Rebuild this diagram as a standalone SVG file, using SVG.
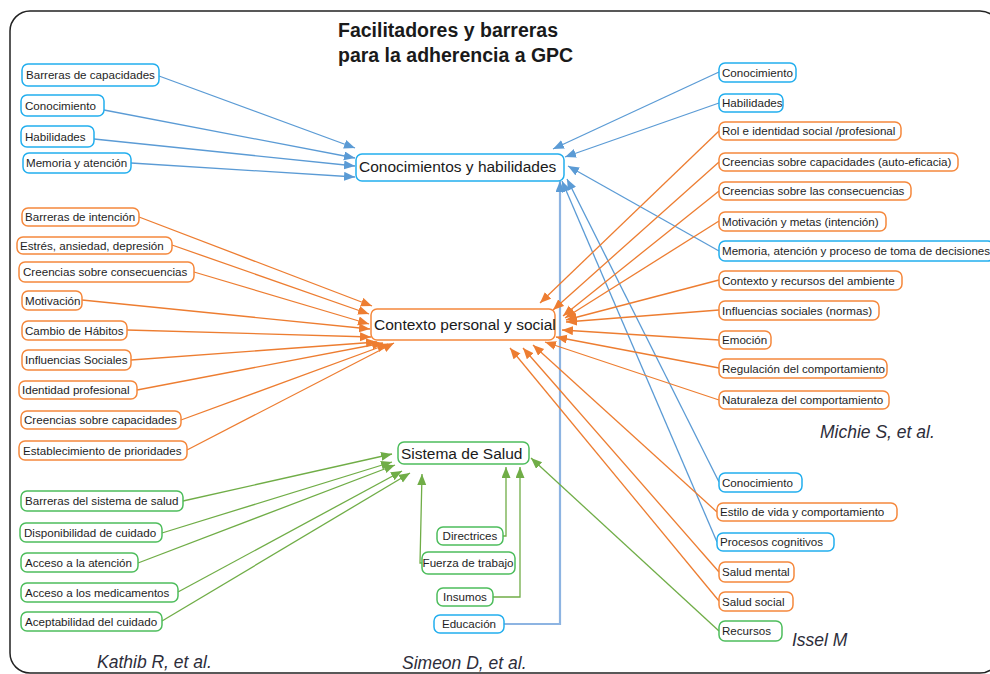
<svg xmlns="http://www.w3.org/2000/svg" width="990" height="674" viewBox="0 0 990 674">
<defs>
<style>
.bg{fill:#fff}
.frame{fill:none;stroke:#222;stroke-width:1.5}
.title{font-family:"Liberation Sans",Arial,sans-serif;font-weight:bold;font-size:19.5px;fill:#1a1a1a}
.cite{font-family:"Liberation Sans",Arial,sans-serif;font-style:italic;font-size:17.5px;fill:#2d2d3a}
.t{font-family:"Liberation Sans",Arial,sans-serif;font-size:11.6px;fill:#1e1e1e}
.tm{font-family:"Liberation Sans",Arial,sans-serif;font-size:15.5px;fill:#1a1a1a}
.c{text-anchor:middle}
.nb rect{fill:#fff;stroke:#22aeee;stroke-width:1.5}
.no rect{fill:#fff;stroke:#f5883c;stroke-width:1.5}
.ng rect{fill:#fff;stroke:#4dbd5c;stroke-width:1.5}
.cb{fill:none;stroke:#5b9bd5;stroke-width:1.3}
.cbe{fill:none;stroke:#8db4e2;stroke-width:2.2}
.co{fill:none;stroke:#ed7d31;stroke-width:1.3}
.cg{fill:none;stroke:#70ad47;stroke-width:1.3}
</style>
<marker id="ab" markerUnits="userSpaceOnUse" markerWidth="12" markerHeight="10" refX="11" refY="4.5" orient="auto"><path d="M0,0 L11,4.5 L0,9 z" fill="#5b9bd5"/></marker>
<marker id="ao" markerUnits="userSpaceOnUse" markerWidth="12" markerHeight="10" refX="11" refY="4.5" orient="auto"><path d="M0,0 L11,4.5 L0,9 z" fill="#ed7d31"/></marker>
<marker id="ag" markerUnits="userSpaceOnUse" markerWidth="12" markerHeight="10" refX="11" refY="4.5" orient="auto"><path d="M0,0 L11,4.5 L0,9 z" fill="#70ad47"/></marker>
</defs>
<rect class="bg" x="0" y="0" width="990" height="674"/>
<rect class="frame" x="10" y="11" width="990" height="662" rx="20"/>
<text class="title" x="338" y="37">Facilitadores y barreras</text>
<text class="title" x="338" y="62">para la adherencia a GPC</text>

<g id="connectors">
<!-- blue: into Conocimientos y habilidades -->
<path class="cb" marker-end="url(#ab)" d="M159,76 L355,148"/>
<path class="cb" marker-end="url(#ab)" d="M104,110 L355,158"/>
<path class="cb" marker-end="url(#ab)" d="M94,139 L355,166"/>
<path class="cb" marker-end="url(#ab)" d="M131,163 L355,177"/>
<path class="cb" marker-end="url(#ab)" d="M719,72 L553,149"/>
<path class="cb" marker-end="url(#ab)" d="M719,103 L565,157"/>
<path class="cb" marker-end="url(#ab)" d="M719,251 L568,166"/>
<path class="cb" marker-end="url(#ab)" d="M719,482 L567,179"/>
<path class="cb" marker-end="url(#ab)" d="M717,542 L562,181"/>
<path class="cbe" marker-end="url(#ab)" d="M504,624 L560,624 L560,181"/>
<!-- orange: into Contexto personal y social -->
<path class="co" marker-end="url(#ao)" d="M139,217 L372,306"/>
<path class="co" marker-end="url(#ao)" d="M172,245 L369,314"/>
<path class="co" marker-end="url(#ao)" d="M194,272 L369,324"/>
<path class="co" marker-end="url(#ao)" d="M82,300 L370,329"/>
<path class="co" marker-end="url(#ao)" d="M127,330 L371,337"/>
<path class="co" marker-end="url(#ao)" d="M131,360 L377,342"/>
<path class="co" marker-end="url(#ao)" d="M137,390 L383,343"/>
<path class="co" marker-end="url(#ao)" d="M181,420 L388,344"/>
<path class="co" marker-end="url(#ao)" d="M187,450 L394,343"/>
<path class="co" marker-end="url(#ao)" d="M719,131 L540,303"/>
<path class="co" marker-end="url(#ao)" d="M719,162 L553,310"/>
<path class="co" marker-end="url(#ao)" d="M719,191 L563,316"/>
<path class="co" marker-end="url(#ao)" d="M719,221 L565,318"/>
<path class="co" marker-end="url(#ao)" d="M719,280 L566,320"/>
<path class="co" marker-end="url(#ao)" d="M719,310 L566,322"/>
<path class="co" marker-end="url(#ao)" d="M719,340 L562,330"/>
<path class="co" marker-end="url(#ao)" d="M719,368 L556,337"/>
<path class="co" marker-end="url(#ao)" d="M719,400 L545,342"/>
<path class="co" marker-end="url(#ao)" d="M717,512 L533,345"/>
<path class="co" marker-end="url(#ao)" d="M719,572 L523,348"/>
<path class="co" marker-end="url(#ao)" d="M719,601 L510,348"/>
<!-- green: into Sistema de Salud -->
<path class="cg" marker-end="url(#ag)" d="M183,501 L392,454"/>
<path class="cg" marker-end="url(#ag)" d="M162,533 L392,462"/>
<path class="cg" marker-end="url(#ag)" d="M138,563 L395,465"/>
<path class="cg" marker-end="url(#ag)" d="M178,592 L402,471"/>
<path class="cg" marker-end="url(#ag)" d="M162,621 L410,473"/>
<path class="cg" marker-end="url(#ag)" d="M503,536 L506,536 L506,467"/>
<path class="cg" marker-end="url(#ag)" d="M493,597 L520,597 L520,467"/>
<path class="cg" marker-end="url(#ag)" d="M422,563 L420,563 L422,474"/>
<path class="cg" marker-end="url(#ag)" d="M719,631 L531,458"/>
</g>

<!-- central nodes -->
<g id="conocimientos-habilidades" class="nb"><rect x="356" y="154" width="208" height="27" rx="6"/><text class="tm" x="359" y="172">Conocimientos y habilidades</text></g>
<g id="contexto-personal-social" class="no"><rect x="371" y="309" width="184" height="31" rx="6"/><text class="tm" x="374" y="330">Contexto personal y social</text></g>
<g id="sistema-salud" class="ng"><rect x="398" y="442" width="131" height="22" rx="6"/><text class="tm" x="401" y="459">Sistema de Salud</text></g>

<!-- left column -->
<g id="l-barreras-capacidades" class="nb"><rect x="22" y="64" width="137" height="22" rx="6"/><text class="t" x="26" y="79">Barreras de capacidades</text></g>
<g id="l-conocimiento" class="nb"><rect x="21" y="95" width="83" height="21" rx="6"/><text class="t" x="25" y="110">Conocimiento</text></g>
<g id="l-habilidades" class="nb"><rect x="21" y="126" width="73" height="21" rx="6"/><text class="t" x="25" y="141">Habilidades</text></g>
<g id="l-memoria-atencion" class="nb"><rect x="23" y="153" width="108" height="20" rx="6"/><text class="t" x="26" y="167">Memoria y atención</text></g>

<g id="l-barreras-intencion" class="no"><rect x="22" y="208" width="117" height="18" rx="6"/><text class="t" x="25" y="221">Barreras de intención</text></g>
<g id="l-estres" class="no"><rect x="17" y="237" width="155" height="17" rx="6"/><text class="t" x="20" y="250">Estrés, ansiedad, depresión</text></g>
<g id="l-creencias-consecuencias" class="no"><rect x="19" y="262" width="175" height="20" rx="6"/><text class="t" x="23" y="276">Creencias sobre consecuencias</text></g>
<g id="l-motivacion" class="no"><rect x="22" y="291" width="60" height="19" rx="6"/><text class="t" x="25" y="305">Motivación</text></g>
<g id="l-cambio-habitos" class="no"><rect x="22" y="321" width="105" height="19" rx="6"/><text class="t" x="25" y="335">Cambio de Hábitos</text></g>
<g id="l-influencias-sociales" class="no"><rect x="22" y="350" width="109" height="20" rx="6"/><text class="t" x="25" y="364">Influencias Sociales</text></g>
<g id="l-identidad-profesional" class="no"><rect x="19" y="381" width="118" height="18" rx="6"/><text class="t" x="22" y="394">Identidad profesional</text></g>
<g id="l-creencias-capacidades" class="no"><rect x="21" y="411" width="160" height="18" rx="6"/><text class="t" x="24" y="424">Creencias sobre capacidades</text></g>
<g id="l-prioridades" class="no"><rect x="19" y="441" width="168" height="19" rx="6"/><text class="t" x="23" y="455">Establecimiento de prioridades</text></g>

<g id="l-barreras-sistema" class="ng"><rect x="21" y="491" width="162" height="20" rx="6"/><text class="t" x="25" y="505">Barreras del sistema de salud</text></g>
<g id="l-disponibilidad" class="ng"><rect x="20" y="523" width="142" height="19" rx="6"/><text class="t" x="24" y="537">Disponibilidad de cuidado</text></g>
<g id="l-acceso-atencion" class="ng"><rect x="21" y="553" width="117" height="19" rx="6"/><text class="t" x="25" y="567">Acceso a la atención</text></g>
<g id="l-acceso-medicamentos" class="ng"><rect x="21" y="583" width="157" height="19" rx="6"/><text class="t" x="25" y="597">Acceso a los medicamentos</text></g>
<g id="l-aceptabilidad" class="ng"><rect x="21" y="612" width="141" height="19" rx="6"/><text class="t" x="25" y="626">Aceptabilidad del cuidado</text></g>

<!-- centre column -->
<g id="c-directrices" class="ng"><rect x="437" y="527" width="66" height="18" rx="6"/><text class="t c" x="470" y="540">Directrices</text></g>
<g id="c-fuerza-trabajo" class="ng"><rect x="422" y="552" width="93" height="22" rx="6"/><text class="t c" x="468" y="567">Fuerza de trabajo</text></g>
<g id="c-insumos" class="ng"><rect x="437" y="588" width="56" height="18" rx="6"/><text class="t c" x="465" y="601">Insumos</text></g>
<g id="c-educacion" class="nb"><rect x="434" y="615" width="70" height="18" rx="6"/><text class="t c" x="469" y="628">Educación</text></g>

<!-- right column -->
<g id="r-conocimiento" class="nb"><rect x="719" y="63" width="77" height="19" rx="6"/><text class="t" x="722" y="77">Conocimiento</text></g>
<g id="r-habilidades" class="nb"><rect x="719" y="94" width="64" height="18" rx="6"/><text class="t" x="722" y="107">Habilidades</text></g>
<g id="r-rol-identidad" class="no"><rect x="719" y="122" width="182" height="18" rx="6"/><text class="t" x="722" y="135">Rol e identidad social /profesional</text></g>
<g id="r-creencias-capacidades" class="no"><rect x="719" y="153" width="239" height="18" rx="6"/><text class="t" x="722" y="166">Creencias sobre capacidades (auto-eficacia)</text></g>
<g id="r-creencias-consecuencias" class="no"><rect x="719" y="182" width="192" height="18" rx="6"/><text class="t" x="722" y="195">Creencias sobre las consecuencias</text></g>
<g id="r-motivacion-metas" class="no"><rect x="719" y="212" width="167" height="19" rx="6"/><text class="t" x="722" y="226">Motivación y metas (intención)</text></g>
<g id="r-memoria-decisiones" class="nb"><rect x="719" y="241" width="275" height="20" rx="6"/><text class="t" x="722" y="255">Memoria, atención y proceso de toma de decisiones</text></g>
<g id="r-contexto-recursos" class="no"><rect x="719" y="271" width="183" height="19" rx="6"/><text class="t" x="722" y="285">Contexto y recursos del ambiente</text></g>
<g id="r-influencias-normas" class="no"><rect x="719" y="301" width="160" height="19" rx="6"/><text class="t" x="722" y="315">Influencias sociales (normas)</text></g>
<g id="r-emocion" class="no"><rect x="719" y="331" width="52" height="18" rx="6"/><text class="t" x="722" y="344">Emoción</text></g>
<g id="r-regulacion" class="no"><rect x="719" y="359" width="168" height="19" rx="6"/><text class="t" x="722" y="373">Regulación del comportamiento</text></g>
<g id="r-naturaleza" class="no"><rect x="719" y="391" width="170" height="18" rx="6"/><text class="t" x="722" y="404">Naturaleza del comportamiento</text></g>

<g id="r-conocimiento-2" class="nb"><rect x="719" y="473" width="83" height="19" rx="6"/><text class="t" x="722" y="487">Conocimiento</text></g>
<g id="r-estilo-vida" class="no"><rect x="717" y="503" width="180" height="18" rx="6"/><text class="t" x="720" y="516">Estilo de vida y comportamiento</text></g>
<g id="r-procesos-cognitivos" class="nb"><rect x="717" y="533" width="117" height="18" rx="6"/><text class="t" x="720" y="546">Procesos cognitivos</text></g>
<g id="r-salud-mental" class="no"><rect x="719" y="562" width="75" height="20" rx="6"/><text class="t" x="722" y="576">Salud mental</text></g>
<g id="r-salud-social" class="no"><rect x="719" y="592" width="74" height="19" rx="6"/><text class="t" x="722" y="606">Salud social</text></g>
<g id="r-recursos" class="ng"><rect x="719" y="621" width="63" height="20" rx="6"/><text class="t" x="722" y="635">Recursos</text></g>

<!-- source references -->
<text class="cite" x="820" y="438">Michie S, et al.</text>
<text class="cite" x="792" y="646">Issel M</text>
<text class="cite" x="97" y="668">Kathib R, et al.</text>
<text class="cite" x="402" y="669">Simeon D, et al.</text>
</svg>
